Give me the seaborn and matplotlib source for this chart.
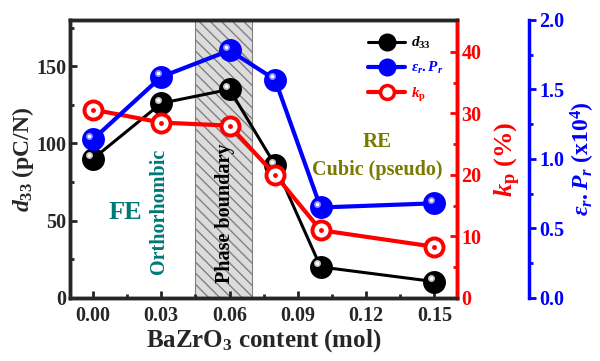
import numpy as np
import matplotlib
matplotlib.use("Agg")
import matplotlib.pyplot as plt
import matplotlib.transforms as mtransforms
from matplotlib.lines import Line2D
from matplotlib.patches import Rectangle
import seaborn as sns

# data
content = [0.00, 0.03, 0.06, 0.08, 0.10, 0.15]
d33 = [90, 126, 135, 86, 20, 10.5]
eps_pr = [1.14, 1.59, 1.78, 1.57, 0.65, 0.68]
kp = [30.6, 28.5, 28.0, 20.0, 11.0, 8.3]
x_ticks = [0.00, 0.03, 0.06, 0.09, 0.12, 0.15]
phase_lo, phase_hi = 0.045, 0.07

sns.set_style("ticks")
plt.rcParams["font.family"] = ["Liberation Serif", "DejaVu Serif"]
plt.rcParams["font.weight"] = "bold"
plt.rcParams["axes.labelweight"] = "bold"
plt.rcParams["mathtext.fontset"] = "custom"
plt.rcParams["mathtext.rm"] = "Liberation Serif:bold"
plt.rcParams["mathtext.it"] = "Liberation Serif:italic:bold"
plt.rcParams["mathtext.bf"] = "Liberation Serif:bold"

RED = "#ff0000"
BLUE = "#0000ff"
TEAL = "#007878"
OLIVE = "#7a7a00"

fig = plt.figure(figsize=(6, 3.61), dpi=100)
ax = fig.add_axes([0.117, 0.175, 0.645, 0.77])
ax2 = ax.twinx()
ax3 = ax.twinx()

# phase boundary band
ax.add_patch(Rectangle((phase_lo, 0), phase_hi - phase_lo, 180, facecolor="#dcdcdc",
                       edgecolor="#808080", hatch="\\\\\\", linewidth=0.8, zorder=0))

ms = 16.5
hl = mtransforms.offset_copy(ax.transData, fig=fig, x=-2.5, y=2.5, units="points")

sns.lineplot(x=content, y=d33, ax=ax, color="black", linewidth=2.2, marker="o",
             markersize=ms, markeredgewidth=0, zorder=3)
ax.plot(content, d33, "o", color="#c8c8c8", markersize=5, markeredgewidth=0, zorder=4,
        transform=hl)
ax.plot(content, d33, "o", color="white", markersize=2.5, markeredgewidth=0, zorder=5,
        transform=hl)

hl3 = mtransforms.offset_copy(ax3.transData, fig=fig, x=-2.5, y=2.5, units="points")
sns.lineplot(x=content, y=eps_pr, ax=ax3, color=BLUE, linewidth=3, marker="o",
             markersize=ms, markeredgewidth=0, zorder=3)
ax3.plot(content, eps_pr, "o", color="#9090ff", markersize=5, markeredgewidth=0, zorder=4,
         transform=hl3)
ax3.plot(content, eps_pr, "o", color="white", markersize=2.5, markeredgewidth=0, zorder=5,
         transform=hl3)

sns.lineplot(x=content, y=kp, ax=ax2, color=RED, linewidth=3, marker="o",
             markersize=13, markerfacecolor="white", markeredgecolor=RED,
             markeredgewidth=2.8, zorder=3)
ax2.plot(content, kp, "o", color=RED, markersize=3.5, markeredgewidth=0, zorder=4)

# axes ranges and ticks
ax.set_xlim(-0.01, 0.16)
ax.set_ylim(0, 180)
ax2.set_ylim(0, 45.2)
ax3.set_ylim(0, 2.0)
ax.set_xticks(x_ticks)
ax.set_xticks(np.arange(-0.0, 0.16, 0.015), minor=True)
ax.set_xticklabels([f"{v:.2f}" for v in x_ticks])
ax.set_yticks([0, 50, 100, 150])
ax.set_yticks(np.arange(0, 180, 25), minor=True)
ax2.set_yticks([0, 10, 20, 30, 40])
ax2.set_yticks(np.arange(0, 45, 5), minor=True)
ax3.set_yticks([0.0, 0.5, 1.0, 1.5, 2.0])
ax3.set_yticks(np.arange(0, 2.01, 0.25), minor=True)
ax3.set_yticklabels(["0.0", "0.5", "1.0", "1.5", "2.0"])

for a in (ax, ax2, ax3):
    for s in a.spines.values():
        s.set_linewidth(2.5)
ax.tick_params(which="both", direction="in", width=2, labelsize=14.5)
ax.tick_params(which="major", length=5)
ax.tick_params(which="minor", length=3)
ax.tick_params(axis="x", pad=6)
ax.tick_params(axis="y", pad=3)

ax2.spines["right"].set_color(RED)
ax2.tick_params(axis="y", which="both", direction="in", colors=RED, width=2, labelsize=14.5,
                pad=3)
ax2.tick_params(axis="y", which="major", length=5)
ax2.tick_params(axis="y", which="minor", length=3)

ax3.spines["right"].set_position(("outward", 52))
ax3.spines["right"].set_color(BLUE)
for s in ("left", "top", "bottom"):
    ax3.spines[s].set_visible(False)
ax3.tick_params(axis="y", which="both", direction="out", colors=BLUE, width=2, labelsize=14.5,
                pad=2)
ax3.tick_params(axis="y", which="major", length=5)
ax3.tick_params(axis="y", which="minor", length=3)

ax.set_xlabel("BaZrO$_3$ content (mol)", fontsize=18, fontweight="bold", labelpad=1)
ax.set_ylabel("$d_{33}$ (pC/N)", fontsize=17, fontweight="bold", labelpad=0)
ax2.set_ylabel("$k_{\\mathrm{p}}$ (%)", fontsize=19, fontweight="bold", color=RED, labelpad=8)
ax3.set_ylabel("$\\varepsilon_r.P_r$ (x10$^4$)", fontsize=17, fontweight="bold",
               color=BLUE, labelpad=3)

# annotations
ax.text(0.0142, 55, "FE", color=TEAL, fontsize=19, fontweight="bold",
        ha="center", va="center")
ax.text(0.0291, 56, "Orthorhombic", color=TEAL, fontsize=14.5, fontweight="bold",
        rotation=90, ha="center", va="center")
ax.text(0.058, 55, "Phase boundary", color="black", fontsize=14.5, fontweight="bold",
        rotation=90, ha="center", va="center")
ax.text(0.1249, 101, "RE", color=OLIVE, fontsize=15, fontweight="bold",
        ha="center", va="center")
ax.text(0.125, 83, "Cubic (pseudo)", color=OLIVE, fontsize=14.5, fontweight="bold",
        ha="center", va="center")

handles = [
    Line2D([], [], color="black", linewidth=2.2, marker="o", markersize=13, markeredgewidth=0),
    Line2D([], [], color=BLUE, linewidth=3, marker="o", markersize=13, markeredgewidth=0),
    Line2D([], [], color=RED, linewidth=3, marker="o", markersize=10, markerfacecolor="white",
           markeredgecolor=RED, markeredgewidth=2.5),
]
leg = ax.legend(handles, ["$d_{33}$", "$\\varepsilon_r.P_r$", "$k_{\\mathrm{p}}$"],
                loc="upper left", bbox_to_anchor=(0.735, 0.995), frameon=False,
                fontsize=11, handlelength=2.4, handletextpad=0.4, labelspacing=0.6)
for t, c in zip(leg.get_texts(), ["black", BLUE, RED]):
    t.set_color(c)

fig.savefig("out.png", dpi=100)
